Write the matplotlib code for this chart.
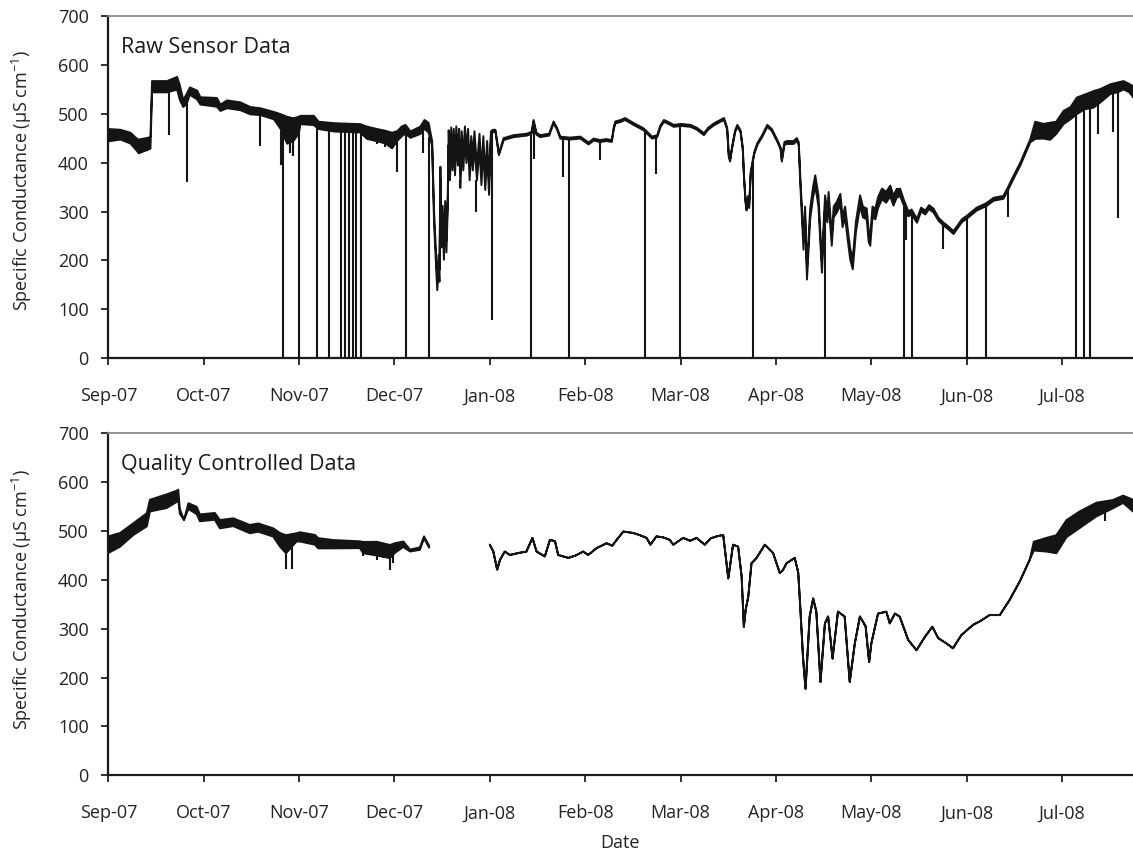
"""Specific conductance: raw sensor record vs quality-controlled record."""

import numpy as np
import matplotlib
matplotlib.use("Agg")
import matplotlib.pyplot as plt

plt.rcParams["font.family"] = ["Open Sans", "DejaVu Sans"]
plt.rcParams["mathtext.fontset"] = "custom"
plt.rcParams["mathtext.rm"] = "Open Sans"
plt.rcParams["mathtext.it"] = "Open Sans"

# x axis: days after 1 Sep 2007, one label every 30 days
month_labels = ["Sep-07", "Oct-07", "Nov-07", "Dec-07", "Jan-08", "Feb-08",
                "Mar-08", "Apr-08", "May-08", "Jun-08", "Jul-08"]
x_end = 322.3

# raw sensor record: centre value and width of the daily oscillation band
raw_day = [0, 3.7, 6.8, 8.9, 9.4, 12.6, 13.1, 13.6, 18.3, 21.5, 22.3, 23.4, 24.4, 25.5,
           27.8, 28.8, 34.0, 35.1, 37.2, 41.4, 44.5, 47.7, 51.9, 54.0, 56.1, 58.0, 59.7,
           60.3, 64.5, 66.0, 70.8, 79.1, 81.2, 84.4, 87.0, 89.1, 90.7, 92.2, 93.3, 94.9,
           98.0, 99.3, 100.6,
           101.7, 102.3, 102.8, 103.3, 103.8, 104.0, 104.3, 104.6, 105.0, 105.4, 105.8,
           106.2, 106.6, 106.9, 107.3, 107.7, 108.1, 108.5, 108.9, 109.3, 109.8, 110.2,
           110.6, 111.0, 111.5, 112.0, 112.5, 113.0, 113.5, 114.0, 114.5, 115.0, 115.8,
           116.6, 117.2, 117.8, 118.4, 119.0, 119.6, 120.2, 120.9, 121.6, 122.7, 124.2,
           127.3, 131.5, 133.0, 133.6, 134.5, 135.7, 138.5, 139.9, 141.0, 142.0, 145.0,
           148.3, 150.9, 152.5, 154.6, 156.5, 158.2, 158.8, 159.3, 161.0, 162.4, 165.0,
           168.2, 170.9, 172.5, 173.5, 174.6, 176.0, 177.7, 180.0, 183.0, 185.0, 187.2,
           188.5, 190.3, 192.0, 193.5, 194.5, 195.0, 195.4, 196.0, 197.0, 197.7, 198.7,
           199.4, 199.8, 200.3, 200.6, 201.0, 201.4, 201.9, 203.0, 204.0, 205.5, 207.1,
           208.5, 210.3, 211.3, 211.7, 212.5, 213.3, 215.4, 216.4, 217.0, 217.5, 218.0,
           218.5, 219.0, 219.6, 220.6, 221.5, 222.2, 223.2, 224.3, 224.8, 225.3, 226.0,
           226.4, 227.4, 228.0, 229.0, 230.1, 230.8, 231.6, 232.3, 233.2, 234.0, 235.0,
           236.3, 237.2, 238.4, 239.0, 239.5, 240.2, 241.1, 242.0, 243.2, 244.5, 245.8,
           246.8, 247.8, 248.9, 250.0, 251.5, 252.5, 254.2, 255.5, 256.8, 258.0, 259.4,
           261.0, 262.6, 264.0, 265.7, 267.0, 268.3, 270.0, 273.0, 276.0, 278.3, 281.4,
           283.0, 284.5, 286.7, 289.8,
           291.4, 294.0, 296.1, 298.0, 300.3, 302.5, 304.5, 307.0, 309.7, 312.0, 315.0,
           317.5, 319.2, 321.0, 322.3]
raw_val = [457, 458, 451, 437, 434, 440, 442, 556, 556, 563, 545, 522, 530, 547,
           539, 527, 524, 513, 520, 516, 507, 505, 497, 485, 467, 468, 477,
           488, 487, 477, 473, 471, 462, 457, 453, 446, 455, 465, 469, 458,
           467, 479, 472,
           440, 290, 220, 153, 200, 170, 380, 240, 300, 215, 310,
           230, 320, 452, 380, 458, 400, 455, 390, 460, 410, 455,
           364, 450, 400, 460, 415, 455, 380, 440, 400, 450, 380,
           445, 370, 440, 360, 430, 350, 460, 466, 466, 418, 449,
           455, 458, 462, 486, 460, 455, 458, 483, 470, 452, 450,
           452, 440, 448, 445, 447, 445, 470, 483, 486, 490, 480,
           469, 452, 455, 475, 486, 482, 476, 478, 476, 470, 459,
           470, 479, 485, 490, 470, 415, 405, 430, 465, 476, 465,
           430, 370, 320, 305, 330, 310, 380, 420, 439, 455, 476,
           468, 445, 430, 405, 440, 442, 442, 448, 440, 364, 300,
           234, 300, 173, 296, 340, 364, 323, 187, 260, 323, 290,
           330, 242, 300, 310, 326, 280, 300, 260, 214, 194, 270,
           323, 300, 296, 250, 242, 300, 296, 320, 337, 330, 343,
           323, 338, 340, 320, 296, 300, 282, 305, 299, 310, 303,
           285, 275, 268, 258, 270, 282, 290, 306, 315, 326, 330,
           350, 370, 398, 445,
           467, 465, 465, 472, 493, 502, 517, 525, 530, 538, 551,
           555, 559, 553, 545]
raw_spread = [25, 20, 22, 25, 28, 24, 25, 23, 23, 26, 30, 15, 20, 15,
              18, 15, 18, 13, 16, 16, 15, 14, 15, 30, 55, 47, 35,
              17, 19, 15, 17, 17, 25, 25, 26, 32, 20, 20, 18, 13,
              15, 18, 20,
              10, 25, 25, 25, 25, 25, 25, 25, 25, 25, 25,
              25, 25, 30, 30, 30, 30, 30, 30, 30, 30, 30,
              30, 30, 30, 30, 30, 30, 30, 30, 30, 30, 30,
              30, 30, 30, 30, 30, 30, 10, 4, 4, 4, 4,
              4, 4, 4, 4, 4, 4, 4, 4, 4, 4, 4,
              4, 4, 4, 4, 4, 4, 4, 4, 4, 4, 4,
              4, 4, 4, 4, 4, 4, 4, 4, 4, 4, 4,
              4, 4, 4, 4, 4, 4, 4, 4, 4, 4, 4,
              4, 4, 4, 4, 4, 4, 4, 4, 4, 4, 4,
              4, 4, 4, 4, 6, 6, 6, 6, 6, 15, 20,
              22, 22, 22, 22, 22, 22, 22, 22, 22, 22, 22,
              22, 22, 22, 22, 22, 22, 22, 22, 22, 22, 22,
              22, 22, 22, 22, 22, 22, 22, 22, 22, 22, 22,
              20, 18, 15, 12, 10, 10, 8, 8, 8, 8, 8,
              6, 6, 6, 6, 6, 6, 6, 6, 6, 6, 6,
              6, 6, 6, 6,
              35, 30, 35, 25, 27, 25, 34, 30, 34, 27, 20,
              20, 17, 17, 23]

# raw record: isolated drop-outs (day, lowest reading)
raw_spike_day = [19.2, 24.8, 47.8, 54.4, 54.8, 57.0, 58.0, 60.1, 65.6, 69.4, 73.1, 74.4,
                 75.7, 76.9, 77.9, 79.5, 84.4, 87.0, 90.7, 93.7, 99.1, 101.0, 110.6,
                 115.8, 120.6, 132.9, 133.8, 143.1, 145.0, 154.8, 168.9, 172.2, 179.8,
                 202.8, 225.5, 250.3, 250.8, 252.7, 262.6, 270.0, 276.2, 283.0, 304.4,
                 306.8, 308.7, 311.3, 316.0, 317.7]
raw_spike_low = [456, 361, 433, 395, 0, 420, 413, 0, 0, 0, 0, 0,
                 0, 0, 0, 0, 438, 432, 381, 0, 419, 0, 364,
                 299, 78, 0, 408, 371, 0, 405, 0, 377, 0,
                 0, 0, 0, 242, 0, 224, 0, 0, 289, 0,
                 0, 0, 459, 463, 286]

# quality-controlled record (NaN marks the removed December block)
qc_day = [0, 3.7, 7.9, 12.1, 13.1, 18.3, 21.5, 22.0, 22.5, 23.8, 25.2, 27.8, 28.8, 33.5,
          35.1, 39.3, 44.5, 47.2, 51.9, 54.0, 55.9, 59.2, 60.3, 65.0, 66.0, 70.8, 79.1,
          80.2, 84.4, 88.6, 90.1, 92.8, 94.9, 98.0, 99.3, 100.9,
          110.0,
          120.0, 121.1, 122.3, 123.2, 124.7, 126.3, 129.0, 131.5, 133.4, 134.7, 137.3,
          138.9, 140.5, 141.5, 144.7, 147.0, 149.4, 150.9, 153.6, 156.7, 158.5, 159.9,
          162.0, 165.1, 167.0, 169.3, 170.5, 172.4, 174.5, 176.6, 177.7, 180.8, 183.0,
          185.0, 187.6, 189.5, 191.3, 193.4, 194.2, 195.0, 195.8, 196.5, 198.1, 199.2,
          199.9, 200.5, 201.3, 202.3, 203.9, 206.5, 209.1, 211.2, 212.2, 213.3, 215.9,
          217.0, 217.7, 218.5, 219.3, 220.6, 221.7, 222.7, 224.0, 225.4, 226.4, 227.8,
          229.5, 231.6, 233.2, 234.8, 236.4, 238.2, 239.3, 240.0, 242.1, 244.7, 245.8,
          247.4, 248.9, 251.6, 254.2, 256.8, 259.2, 261.0, 263.6, 265.7, 268.3, 272.0,
          274.1, 277.2, 280.4, 283.5, 286.7, 289.8,
          291.1, 295.1, 298.2, 301.4, 305.5, 310.8, 316.0, 319.2, 322.3]
qc_val = [472, 482, 504, 523, 552, 561, 571, 574, 540, 523, 551, 542, 527, 530,
          514, 518, 504, 507, 497, 482, 473, 487, 488, 482, 475, 473, 472,
          466, 464, 458, 465, 473, 460, 464, 487, 468,
          np.nan,
          472, 458, 421, 441, 458, 451, 455, 458, 486, 458, 448,
          482, 479, 451, 445, 450, 458, 451, 465, 475, 470, 482,
          499, 496, 492, 486, 472, 489, 487, 482, 472, 486, 480,
          486, 472, 485, 489, 492, 448, 403, 440, 472, 468, 407,
          304, 340, 366, 434, 445, 472, 455, 414, 420, 434, 445,
          415, 338, 242, 177, 325, 362, 335, 191, 311, 325, 239,
          335, 325, 191, 270, 325, 305, 232, 270, 331, 335, 311,
          331, 325, 277, 256, 283, 304, 281, 270, 260, 287, 308,
          315, 328, 328, 359, 397, 441,
          469, 472, 473, 505, 523, 544, 555, 565, 552]
qc_band_start = [34, 28, 24, 27, 24, 28, 23, 21, 10, 0, 12, 15, 14, 14,
                 17, 16, 17, 17, 17, 28, 37, 17, 19, 20, 21, 17, 14,
                 23, 28, 27, 20, 11, 4, 5, 4, 4]
qc_band_end = [18, 28, 37, 35, 34, 28, 17, 15, 24]

# short dips kept in the quality-controlled record (day, lowest reading)
qc_dip_day = [55.8, 57.7, 80.2, 84.4, 86.5, 88.6, 89.6, 313.4]
qc_dip_low = [422, 422, 448, 441, 444, 420, 434, 520]

line_color = "#141414"


def band_width(n_points, start, end):
    # the QC band only shows at the start and the end of the record
    middle = n_points - len(start) - len(end)
    return np.array(list(start) + [0] * middle + list(end), dtype=float)


def draw_panel(ax, day, val, spread, drop_day, drop_low, title):
    day = np.asarray(day, dtype=float)
    val = np.asarray(val, dtype=float)
    spread = np.asarray(spread, dtype=float)
    lo = val - spread / 2
    hi = val + spread / 2
    ax.fill_between(day, lo, hi, facecolor=line_color, edgecolor=line_color,
                    linewidth=1.4, zorder=3)
    ok = ~np.isnan(lo)
    top = np.interp(drop_day, day[ok], lo[ok])
    ax.vlines(drop_day, drop_low, top, color=line_color, linewidth=1.5, zorder=3)

    ax.set_xlim(0, x_end)
    ax.set_ylim(0, 700)
    ax.set_yticks(range(0, 701, 100))
    ax.set_xticks(range(0, 301, 30))
    ax.set_xticklabels(month_labels)
    ax.tick_params(axis="x", direction="out", length=5, width=1.3, pad=16,
                   labelsize=13, colors="#222222")
    ax.tick_params(axis="y", direction="out", length=5, width=1.3, pad=9,
                   labelsize=13, colors="#222222")
    for side in ("left", "bottom"):
        ax.spines[side].set_linewidth(1.6)
        ax.spines[side].set_color("#1a1a1a")
    ax.spines["top"].set_color("#8a8a8a")
    ax.spines["top"].set_linewidth(1.3)
    ax.spines["right"].set_visible(False)
    ax.text(0.012, 0.892, title, transform=ax.transAxes, fontsize=15.5,
            color="#1a1a1a", ha="left", va="baseline")


fig = plt.figure(figsize=(11.33, 8.55), dpi=100)
ax_raw = fig.add_axes([0.0956, 0.5809, 0.9044, 0.4007])
ax_qc = fig.add_axes([0.0956, 0.0932, 0.9044, 0.4000])

draw_panel(ax_raw, raw_day, raw_val, raw_spread,
           raw_spike_day, raw_spike_low, "Raw Sensor Data")
draw_panel(ax_qc, qc_day, qc_val, band_width(len(qc_day), qc_band_start, qc_band_end),
           qc_dip_day, qc_dip_low, "Quality Controlled Data")

ylabel = "Specific Conductance (\u00b5S cm$^{-1}$)"
fig.text(21.7 / 1133, 1 - 180.7 / 855, ylabel, rotation=90, ha="center", va="center",
         fontsize=13, color="#222222")
fig.text(21.7 / 1133, 1 - 600 / 855, ylabel, rotation=90, ha="center", va="center",
         fontsize=13, color="#222222")
fig.text(620 / 1133, 1 - 843 / 855, "Date", ha="center", va="center",
         fontsize=13, color="#222222")

fig.savefig("out.png", dpi=100)
plt.close(fig)
